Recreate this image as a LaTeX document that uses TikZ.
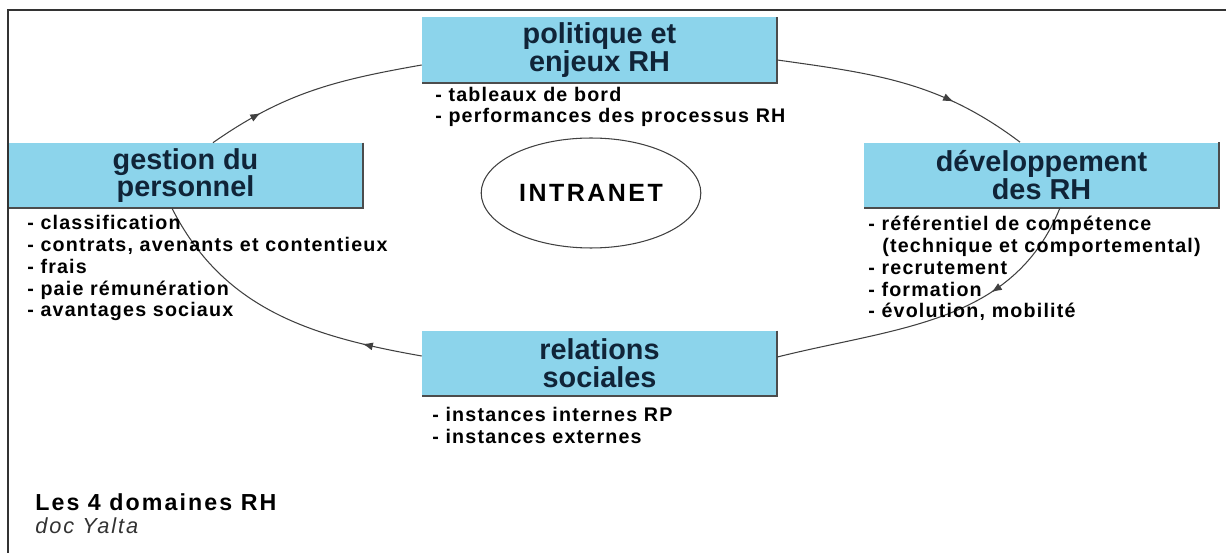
\documentclass[tikz,border=0pt]{standalone}
\usepackage{fontspec}
\setmainfont{Liberation Sans}
\newfontfamily\listfont[LetterSpace=6]{Liberation Sans}
\newfontfamily\hubfont[LetterSpace=10]{Liberation Sans}
\newfontfamily\capfont[LetterSpace=9]{Liberation Sans}
\usepackage{xcolor}
\usetikzlibrary{shapes.geometric, arrows, arrows.meta, positioning, decorations.markings}
\definecolor{boxblue}{RGB}{140,212,235}
\definecolor{titlenavy}{RGB}{16,36,56}
\tikzstyle{domainbox} = [rectangle, minimum width=7.1cm, minimum height=1.3cm, inner sep=0pt, fill=boxblue, text=titlenavy, align=center, font=\bfseries\fontsize{16.4}{15.8}\selectfont]
\tikzstyle{itemlist} = [inner sep=0pt, anchor=base west, align=left, font=\listfont\bfseries\fontsize{11.2}{12.5}\selectfont]
\tikzstyle{ringline} = [draw=black!75, line width=0.6pt]
\tikzstyle{shadowline} = [draw=black!70, line width=1pt]
\tikzstyle{frameline} = [draw=black!80, line width=1.5pt]
\tikzset{flow/.style={postaction={decorate, decoration={markings, mark=at position #1 with {\arrow{Latex[length=6pt,width=4.5pt]}}}}}}

\begin{document}
\begin{tikzpicture}[x=0.02cm, y=-0.02cm]
\useasboundingbox (0,0) rectangle (1226,553);

% the four domains
\node (pol) [domainbox] at (599.5,50) {politique et\\enjeux RH};
\node (ges) [domainbox] at (185.5,175.5) {gestion du\\personnel};
\node (dev) [domainbox] at (1041.5,175) {développement\\des RH};
\node (rel) [domainbox] at (599.5,363.5) {relations\\sociales};
\foreach \n in {pol,ges,dev,rel}
  \draw [shadowline] (\n.north east) -- (\n.south east) -- (\n.south west);

\node (hub) [ellipse, draw=black!75, line width=0.6pt, minimum width=4.36cm, minimum height=2.2cm, font=\hubfont\bfseries\fontsize{14.2}{14}\selectfont] at (591,193) {INTRANET};

% the cycle
\draw [ringline, flow=0.25] ([xshift=0.55cm]ges.north) to[out=35, in=190] ([yshift=-0.3cm]pol.west);
\draw [ringline, flow=0.7] ([yshift=-0.2cm]pol.east) to[out=-8, in=143] ([xshift=-0.43cm]dev.north);
\draw [ringline, flow=0.33] ([xshift=0.37cm]dev.south) to[out=-112, in=14] ([yshift=0.13cm]rel.east);
\draw [ringline, flow=0.2] ([yshift=0.15cm]rel.west) to[out=170, in=-63] ([xshift=-0.27cm]ges.south);

% contents (base = last line)
\node (politems) [itemlist] at (435,123) {- tableaux de bord\\- performances des processus RH};
\node (gesitems) [itemlist] at (27,317) {- classification\\- contrats, avenants et contentieux\\- frais\\- paie rémunération\\- avantages sociaux};
\node (devitems) [itemlist] at (868,318) {- référentiel de compétence\\\hspace*{0.28cm}(technique et comportemental)\\- recrutement\\- formation\\- évolution, mobilité};
\node (relitems) [itemlist] at (432,443) {- instances internes RP\\- instances externes};

\node (cap) [anchor=base west, inner sep=0pt, font=\capfont\bfseries\fontsize{13.2}{13}\selectfont] at (35,510) {Les 4 domaines RH};
\node (src) [anchor=base west, inner sep=0pt, text=black!80, font=\capfont\itshape\fontsize{12.4}{12}\selectfont] at (35,533) {doc Yalta};

\draw [frameline] (1226,10) -- (8,10) -- (8,553);
\end{tikzpicture}
\end{document}
